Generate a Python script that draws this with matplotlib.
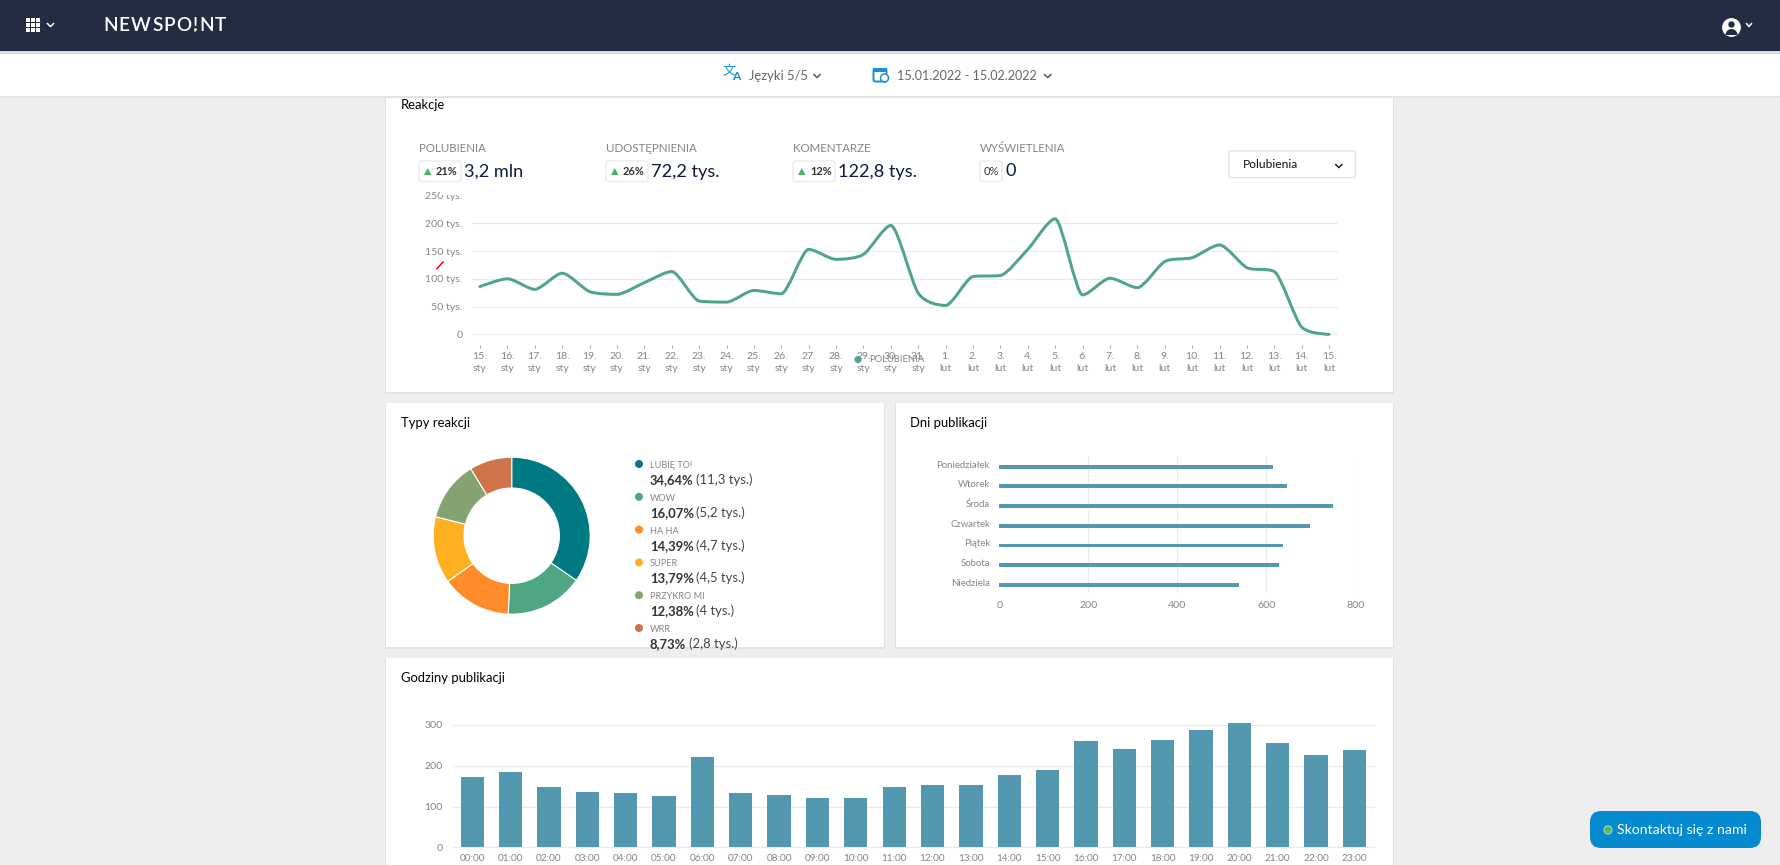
import matplotlib
matplotlib.use('Agg')
import matplotlib.pyplot as plt
from matplotlib.patches import Rectangle, FancyBboxPatch, Circle, Polygon, PathPatch, Wedge
from matplotlib.path import Path
from matplotlib.transforms import ScaledTranslation

plt.rcParams['font.family'] = ['Lato', 'DejaVu Sans']

W, H = 1781, 865
PT = 0.72  # px to pt at dpi 100

# line chart data (thousands)
line_days = ['15.\nsty', '16.\nsty', '17.\nsty', '18.\nsty', '19.\nsty', '20.\nsty', '21.\nsty', '22.\nsty',
             '23.\nsty', '24.\nsty', '25.\nsty', '26.\nsty', '27.\nsty', '28.\nsty', '29.\nsty', '30.\nsty',
             '31.\nsty', '1.\nlut', '2.\nlut', '3.\nlut', '4.\nlut', '5.\nlut', '6.\nlut', '7.\nlut',
             '8.\nlut', '9.\nlut', '10.\nlut', '11.\nlut', '12.\nlut', '13.\nlut', '14.\nlut', '15.\nlut']
likes = [86, 100, 81, 110, 77, 72, 93, 113, 60, 58, 79, 73, 153, 135, 144, 196,
         74, 52, 104, 106, 153, 208, 71, 101, 84, 131, 138, 161, 120, 113, 13, 0]
line_ticks = [0, 50, 100, 150, 200, 250]
line_tick_labels = ['0', '50 tys.', '100 tys.', '150 tys.', '200 tys.', '250 tys.']

# stats row
stat_names = ['POLUBIENIA', 'UDOSTĘPNIENIA', 'KOMENTARZE', 'WYŚWIETLENIA']
stat_pct = ['21%', '26%', '12%', '0%']
stat_values = ['3,2 mln', '72,2 tys.', '122,8 tys.', '0']

# donut
reaction_names = ['LUBIĘ TO!', 'WOW', 'HA HA', 'SUPER', 'PRZYKRO MI', 'WRR']
reaction_share = [34.64, 16.07, 14.39, 13.79, 12.38, 8.73]
reaction_pct = ['34,64%', '16,07%', '14,39%', '13,79%', '12,38%', '8,73%']
reaction_abs = ['(11,3 tys.)', '(5,2 tys.)', '(4,7 tys.)', '(4,5 tys.)', '(4 tys.)', '(2,8 tys.)']
reaction_colors = ['#007a82', '#4fa682', '#ff8c28', '#ffb020', '#83a371', '#cf734a']

# weekdays
weekdays = ['Poniedziałek', 'Wtorek', 'Środa', 'Czwartek', 'Piątek', 'Sobota', 'Niedziela']
weekday_counts = [616, 646, 750, 699, 637, 628, 539]

# hours
hours = ['%02d:00' % h for h in range(24)]
hour_counts = [172, 184, 147, 136, 133, 125, 221, 133, 128, 122, 122, 147,
               154, 154, 177, 189, 261, 241, 264, 287, 306, 257, 227, 239]

GRAY = '#858585'
GRID = '#e8ebf3'
TEAL = '#5397b0'
GREEN = '#4fa682'
NAVY = '#232c42'
BLUE = '#1b8fd2'

fig = plt.figure(figsize=(W / 100, H / 100), dpi=100, facecolor='#eeeeee')


def px_axes(x0, y0, x1, y1, z=1):
    ax = fig.add_axes([x0 / W, 1 - y1 / H, (x1 - x0) / W, (y1 - y0) / H], zorder=z)
    ax.patch.set_alpha(0)
    for s in ax.spines.values():
        s.set_visible(False)
    return ax


bg = px_axes(0, 0, W, H, 0)
bg.set_xlim(0, W)
bg.set_ylim(H, 0)
bg.axis('off')
top = px_axes(0, 0, W, H, 3)
top.set_xlim(0, W)
top.set_ylim(H, 0)
top.axis('off')


def label(ax, x, y, s, size, color='black', ha='left', va='center', **kw):
    return ax.text(x, y, s, fontsize=size * PT, color=color, ha=ha, va=va, **kw)


def chevron(ax, x, y, color, r=3.2):
    ax.plot([x - r, x, x + r], [y - 1.6, y + 1.6, y - 1.6], color=color, lw=1.1, solid_capstyle='round')


def spaced(ax, x, y, s, size, color, gap, **kw):
    r = fig.canvas.get_renderer()
    for ch in s:
        t = label(ax, x, y, ch, size, color, **kw)
        x = ax.transData.inverted().transform(t.get_window_extent(r).get_points())[1, 0] + gap
    return x


def spline_path(xs, ys, s=3.0):
    # Highcharts style spline, s = how tight the curve sits on the points
    verts = [(xs[0], ys[0])]
    codes = [Path.MOVETO]
    conts = []
    n = len(xs)
    for i in range(n):
        if i == 0 or i == n - 1:
            conts.append(((xs[i], ys[i]), (xs[i], ys[i])))
            continue
        lx = (s * xs[i] + xs[i - 1]) / (s + 1)
        ly = (s * ys[i] + ys[i - 1]) / (s + 1)
        rx = (s * xs[i] + xs[i + 1]) / (s + 1)
        ry = (s * ys[i] + ys[i + 1]) / (s + 1)
        c = (ry - ly) * (rx - xs[i]) / (rx - lx) + ys[i] - ry
        ly += c
        ry += c
        if ly > ys[i - 1] and ly > ys[i]:
            ly = max(ys[i - 1], ys[i])
            ry = 2 * ys[i] - ly
        elif ly < ys[i - 1] and ly < ys[i]:
            ly = min(ys[i - 1], ys[i])
            ry = 2 * ys[i] - ly
        if ry > ys[i + 1] and ry > ys[i]:
            ry = max(ys[i + 1], ys[i])
            ly = 2 * ys[i] - ry
        elif ry < ys[i + 1] and ry < ys[i]:
            ry = min(ys[i + 1], ys[i])
            ly = 2 * ys[i] - ry
        conts.append(((lx, ly), (rx, ry)))
    for i in range(1, n):
        verts += [conts[i - 1][1], conts[i][0], (xs[i], ys[i])]
        codes += [Path.CURVE4] * 3
    return Path(verts, codes)


# page chrome
for x0, y0, x1, y1 in [(386, 97, 1393, 392), (386, 403, 884, 647), (896, 403, 1393, 647), (386, 658, 1393, 870)]:
    bg.add_patch(Rectangle((x0 - 1, y0), x1 - x0 + 2, y1 - y0 + 2, fc='#e2e2e2', lw=0))
    bg.add_patch(Rectangle((x0, y0), x1 - x0, y1 - y0, fc='white', lw=0))
bg.add_patch(Rectangle((0, 51), W, 46, fc='white', lw=0))
bg.add_patch(Rectangle((0, 51), W, 3, fc='#dcdcdc', lw=0))
bg.add_patch(Rectangle((0, 96), W, 1.5, fc='#e4e4e4', lw=0))
bg.add_patch(Rectangle((0, 0), W, 51, fc=NAVY, lw=0))

# header
for i in range(3):
    for j in range(3):
        bg.add_patch(Rectangle((25.6 + i * 5.2, 18 + j * 5.2), 4, 4, fc='white', lw=0))
chevron(bg, 50.5, 25, 'white')
spaced(bg, 103, 25.5, 'NEWSPO!NT', 19, 'white', 1.2, weight='semibold')
bg.add_patch(Circle((195, 31), 1.1, fc='#f5821f', lw=0))
bg.add_patch(Circle((1731.5, 27.5), 9.4, fc='white', lw=0))
bg.add_patch(Circle((1731.5, 24.5), 3.2, fc=NAVY, lw=0))
bg.add_patch(Wedge((1731.5, 35), 6, 180, 360, fc=NAVY, lw=0))
chevron(bg, 1749, 25, 'white', 2.6)

# toolbar
label(bg, 722.5, 71.5, '文', 13, BLUE, family=['Noto Sans CJK SC', 'DejaVu Sans'])
label(bg, 732, 77, 'A', 12, BLUE, weight='bold')
label(bg, 749, 76, 'Języki 5/5', 13, '#666666')
chevron(bg, 817, 76, '#555555')
bg.add_patch(FancyBboxPatch((873.5, 69), 13, 12.5, boxstyle='round,pad=0,rounding_size=1.5', fc='white', ec=BLUE, lw=1.4))
bg.add_patch(Rectangle((873, 68), 14, 4, fc=BLUE, lw=0))
bg.add_patch(Circle((884.5, 78), 4, fc='white', ec=BLUE, lw=1.1))
label(bg, 897, 76, '15.01.2022 - 15.02.2022', 12.6, '#666666')
chevron(bg, 1047.7, 76, '#555555')

# titles
label(bg, 401, 105, 'Reakcje', 13)
label(bg, 401, 423, 'Typy reakcji', 13)
label(bg, 910.5, 423, 'Dni publikacji', 13)
label(bg, 401, 678, 'Godziny publikacji', 13)

# stats row
stat_x = [419, 606, 793, 980]
for i in range(4):
    x = stat_x[i]
    label(bg, x, 148, stat_names[i], 11.5, GRAY)
    w = 42 if i < 3 else 22
    bg.add_patch(FancyBboxPatch((x, 161), w, 20.5, boxstyle='round,pad=0,rounding_size=2.5', fc='white', ec='#ebebeb', lw=1))
    if i < 3:
        bg.add_patch(Polygon([(x + 5, 175), (x + 12.5, 175), (x + 8.7, 168)], fc='#45b85f', lw=0))
        label(bg, x + 17, 171.5, stat_pct[i], 11, '#333333', weight='bold')
    else:
        label(bg, x + 3.5, 171.5, stat_pct[i], 11, '#333333')
    label(bg, x + w + 3.5, 171.5, stat_values[i], 18.2, '#0e1b3f')

bg.add_patch(FancyBboxPatch((1229, 151), 126.5, 26.5, boxstyle='round,pad=0,rounding_size=1.5', fc='white', ec='#e2e2e2', lw=1))
label(bg, 1242.7, 165, 'Polubienia', 12, '#111111')
chevron(bg, 1338.8, 166, '#222222')

# line chart
scale = 27.75 / 50
ax = px_axes(472, 195.5, 1338, 345)
ax.set_ylim(-(345 - 334.3) / scale, 250)
ax.set_xlim((472 - 480) / 27.39, (1338 - 480) / 27.39)
days = list(range(len(likes)))
ax.set_yticks(line_ticks)
ax.set_yticklabels(line_tick_labels, color=GRAY, fontsize=10.5 * PT)
ax.set_xticks(days)
ax.set_xticklabels(line_days, color=GRAY, fontsize=10.5 * PT, linespacing=1.4)
ax.tick_params(axis='y', length=0, pad=7)
ax.tick_params(axis='x', length=2.5, width=0.6, color='#999999', pad=2.5)
for v in line_ticks[:-1]:
    ax.axhline(v, color=GRID, lw=0.8, zorder=1)
ax.add_patch(PathPatch(spline_path(days, likes), fc='none', ec=GREEN, lw=3 * PT, zorder=2, capstyle='round', clip_on=False))
top.add_patch(Rectangle((440, 183), 60, 11.5, fc='white', lw=0))
top.add_patch(Circle((858, 359.5), 3.6, fc=GREEN, lw=0))
label(top, 869, 360, 'POLUBIENIA', 9.4, GRAY)
top.plot([437, 443], [268.7, 262], color='#ff0000', lw=1.1)

# donut
ax = px_axes(511.7 - 80, 535.7 - 80, 511.7 + 80, 535.7 + 80)
ax.set_xlim(-80, 80)
ax.set_ylim(-80, 80)
ax.pie(reaction_share, colors=reaction_colors, startangle=90, counterclock=False, radius=78.5,
       center=(0, 0), frame=True, wedgeprops={'width': 78.5 - 47.7, 'edgecolor': 'white', 'linewidth': 0.8})
ax.set_xlim(-80, 80)
ax.set_ylim(-80, 80)
ax.axis('off')

r = fig.canvas.get_renderer()
for i in range(6):
    y = 465 + i * 32.8
    bg.add_patch(Circle((639, y - 1), 4, fc=reaction_colors[i], lw=0))
    label(bg, 650, y + 0.6, reaction_names[i], 9.2, GRAY)
    t = label(bg, 650, y + 19, reaction_pct[i], 13, '#333333', va='baseline', weight='bold')
    xr = bg.transData.inverted().transform(t.get_window_extent(r).get_points())[1, 0]
    label(bg, xr + 2.5, y + 19, reaction_abs[i], 13, '#444444', va='baseline')

# weekdays
ax = px_axes(999.3, 456, 1355.3, 592.7)
ax.set_xlim(0, 800)
ax.set_ylim((592.7 - 466.7) / 19.7, (456 - 466.7) / 19.7)
ax.barh(range(7), weekday_counts, height=0.2, color=TEAL, zorder=2)
ax.set_yticks(range(7))
ax.set_yticklabels(weekdays, color=GRAY, fontsize=9.6 * PT, va='center')
ax.set_xticks([0, 200, 400, 600, 800])
ax.set_xticklabels(['0', '200', '400', '600', '800'], color=GRAY, fontsize=10.5 * PT)
ax.tick_params(axis='y', length=0, pad=6.7)
ax.tick_params(axis='x', length=0, pad=6)
lift = ScaledTranslation(0, 1.5 / 100, fig.dpi_scale_trans)
for t in ax.get_yticklabels():
    t.set_transform(t.get_transform() + lift)
for v in [200, 400, 600, 800]:
    ax.axvline(v, color=GRID, lw=0.8, zorder=1)

# hours
step = 38.36
ax = px_axes(452.7, 725, 1373.6, 847.3)
ax.set_xlim((452.7 - 472.2) / step, (1373.6 - 472.2) / step)
ax.set_ylim(0, 300)
ax.bar(range(24), hour_counts, width=23.3 / step, color=TEAL, zorder=2, clip_on=False)
ax.set_xticks(range(24))
ax.set_xticklabels(hours, color=GRAY, fontsize=10 * PT)
ax.set_yticks([0, 100, 200, 300])
ax.set_yticklabels(['0', '100', '200', '300'], color=GRAY, fontsize=10.5 * PT)
ax.tick_params(axis='y', length=0, pad=7)
ax.tick_params(axis='x', length=0, pad=5)
for v in [0, 100, 200, 300]:
    ax.axhline(v, color=GRID, lw=1, zorder=1, clip_on=False)

# contact button
bg.add_patch(FancyBboxPatch((1590, 811), 171, 37, boxstyle='round,pad=0,rounding_size=11', fc='#058acf', ec='none'))
bg.add_patch(Circle((1608, 830), 4, fc='#5cb85c', ec='#a5d8c0', lw=0.8))
label(bg, 1617.4, 829.5, 'Skontaktuj się z nami', 14, 'white')

fig.savefig('out.png', dpi=100, facecolor=fig.get_facecolor())
